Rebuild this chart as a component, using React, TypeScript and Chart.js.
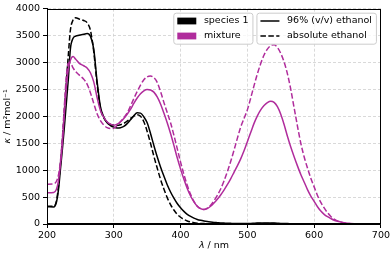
import React, { useEffect, useRef } from 'react';
import { Chart, registerables } from 'chart.js';

Chart.register(...registerables);

// wavelength grid (nm)
const wavelengths = [
  200, 210, 214, 217, 220, 223, 226, 229, 232, 235, 239, 243, 248, 255, 260,
  265, 270, 275, 280, 285, 290, 295, 300, 305, 310, 315, 320, 325, 330, 335,
  340, 345, 350, 355, 360, 365, 370, 375, 380, 385, 390, 395, 400, 405, 410,
  415, 420, 425, 430, 435, 440, 445, 450, 455, 460, 465, 470, 475, 480, 485,
  490, 495, 500, 505, 510, 515, 520, 525, 530, 535, 540, 545, 550, 555, 560,
  565, 570, 575, 580, 585, 590, 595, 600, 605, 610, 615, 620, 625, 630, 635,
  640, 650, 660, 680, 700,
];

// species 1 in 96% (v/v) ethanol
const species96 = [
  320, 318, 400, 620, 1000, 1380, 1800, 2250, 2700, 3250, 3450, 3490, 3505, 3525, 3540,
  3490, 3250, 2650, 2180, 1990, 1880, 1830, 1800, 1785, 1790, 1815, 1865, 1935, 2010, 2065,
  2060, 1990, 1880, 1680, 1460, 1250, 1060, 890, 730, 595, 480, 380, 300, 235, 180,
  140, 110, 85, 68, 55, 45, 37, 30, 25, 20, 17, 14, 12, 10, 9,
  8, 8, 9, 11, 14, 17, 19, 20, 20, 19, 17, 14, 11, 9, 7,
  6, 5, 4, 4, 3, 3, 2, 2, 2, 1, 1, 1, 1, 1, 0,
  0, 0, 0, 0, 0,
];

// species 1 in absolute ethanol
const speciesAbs = [
  330, 330, 420, 680, 1100, 1550, 2100, 2650, 3150, 3600, 3790, 3830, 3810, 3780, 3740,
  3600, 3200, 2600, 2150, 1970, 1890, 1850, 1835, 1835, 1845, 1870, 1910, 1960, 2005, 2030,
  2000, 1900, 1720, 1500, 1260, 1040, 830, 650, 490, 360, 260, 180, 125, 85, 57,
  38, 25, 16, 11, 8, 6, 5, 4, 4, 3, 3, 3, 3, 3, 3,
  3, 3, 4, 5, 7, 9, 10, 11, 11, 10, 9, 7, 6, 5, 4,
  3, 3, 2, 2, 2, 1, 1, 1, 0, 0, 0, 0, 0, 0, 0,
  0, 0, 0, 0, 0,
];

// mixture in 96% (v/v) ethanol
const mixture96 = [
  580, 585, 640, 790, 1100, 1500, 2050, 2550, 2880, 3040, 3110, 3060, 2990, 2940, 2900,
  2810, 2640, 2350, 2110, 1980, 1900, 1855, 1835, 1855, 1900, 1960, 2040, 2130, 2240, 2340,
  2420, 2475, 2500, 2490, 2450, 2360, 2230, 2060, 1880, 1680, 1460, 1230, 1020, 830, 660,
  520, 410, 330, 285, 270, 285, 330, 390, 460, 540, 630, 730, 840, 960, 1080,
  1210, 1360, 1530, 1700, 1870, 2010, 2120, 2200, 2255, 2280, 2260, 2180, 2040, 1850, 1630,
  1430, 1250, 1080, 920, 780, 640, 520, 420, 320, 240, 180, 135, 100, 70, 52,
  38, 15, 5, 0, 0,
];

// mixture in absolute ethanol
const mixtureAbs = [
  740, 745, 790, 900, 1150, 1600, 2200, 2750, 2990, 2990, 2900, 2830, 2770, 2690, 2600,
  2440, 2240, 2050, 1920, 1840, 1790, 1775, 1780, 1830, 1900, 1975, 2060, 2190, 2330, 2460,
  2580, 2680, 2735, 2750, 2720, 2630, 2460, 2260, 2070, 1880, 1650, 1400, 1150, 920, 720,
  550, 420, 330, 285, 270, 295, 350, 430, 530, 650, 800, 970, 1160, 1370, 1590,
  1800, 1960, 2120, 2340, 2570, 2790, 2980, 3140, 3250, 3315, 3330, 3280, 3170, 3010, 2790,
  2500, 2160, 1820, 1500, 1250, 1040, 850, 690, 530, 400, 300, 210, 140, 90, 55,
  32, 10, 2, 0, 0,
];

const seriesLabels = ['species 1', 'mixture'];
const solventLabels = ['96% (v/v) ethanol', 'absolute ethanol'];
const xTitle = ['λ', ' / nm'];
const yTitle = ['κ', ' / m²mol⁻¹'];

const BLACK = '#000000';
const MAGENTA = '#b02c9c';
const FONT = '"DejaVu Sans", sans-serif';
const FS = 9.5;
const DASH = [5.5, 2.4];

const toPoints = (ys: number[]) => wavelengths.map((x, i) => ({ x, y: ys[i] }));

const framePlugin = {
  id: 'frameAndText',
  afterDatasetsDraw(chart: any) {
    const { ctx, chartArea: ca } = chart;
    ctx.save();
    ctx.strokeStyle = '#000';
    ctx.lineWidth = 1;
    ctx.setLineDash([]);
    ctx.strokeRect(Math.round(ca.left) + 0.5, Math.round(ca.top) + 0.5,
      Math.round(ca.right - ca.left) - 1, Math.round(ca.bottom - ca.top) - 1);
    ctx.restore();
  },
  afterDraw(chart: any) {
    const { ctx, chartArea: ca } = chart;
    ctx.save();
    ctx.fillStyle = '#000';
    ctx.textBaseline = 'middle';
    const normal = `${FS}px ${FONT}`;
    const italic = `italic ${FS}px ${FONT}`;

    // x axis title
    ctx.font = italic;
    const xw1 = ctx.measureText(xTitle[0]).width;
    ctx.font = normal;
    const xw2 = ctx.measureText(xTitle[1]).width;
    const xc = (ca.left + ca.right) / 2;
    const xs = xc - (xw1 + xw2) / 2;
    ctx.textAlign = 'left';
    ctx.font = italic;
    ctx.fillText(xTitle[0], xs, 246);
    ctx.font = normal;
    ctx.fillText(xTitle[1], xs + xw1, 246);

    // y axis title
    ctx.save();
    ctx.translate(8, (ca.top + ca.bottom) / 2);
    ctx.rotate(-Math.PI / 2);
    ctx.font = italic;
    const yw1 = ctx.measureText(yTitle[0]).width;
    ctx.font = normal;
    const yw2 = ctx.measureText(yTitle[1]).width;
    const ys = -(yw1 + yw2) / 2;
    ctx.font = italic;
    ctx.fillText(yTitle[0], ys, 0);
    ctx.font = normal;
    ctx.fillText(yTitle[1], ys + yw1, 0);
    ctx.restore();

    // legends
    ctx.font = normal;
    const pad = 4;
    const handle = 19;
    const gap = 7.6;
    const top = ca.top + 4;
    const h = 31;
    const row = [top + 8.3, top + 23.3];
    const box = (x: number, w: number) => {
      ctx.beginPath();
      (ctx as any).roundRect(x + 0.5, top + 0.5, w, h, 2.5);
      ctx.fillStyle = 'rgba(255,255,255,0.8)';
      ctx.fill();
      ctx.strokeStyle = '#cccccc';
      ctx.lineWidth = 1;
      ctx.stroke();
    };
    const tw2 = Math.max(...solventLabels.map((t) => ctx.measureText(t).width));
    const w2 = pad + handle + gap + tw2 + pad;
    const x2 = ca.right - 5 - w2;
    const tw1 = Math.max(...seriesLabels.map((t) => ctx.measureText(t).width));
    const w1 = pad + handle + gap + tw1 + pad;
    const x1 = x2 - 4 - w1;

    box(x1, w1);
    const colors = [BLACK, MAGENTA];
    seriesLabels.forEach((t, i) => {
      ctx.fillStyle = colors[i];
      ctx.fillRect(x1 + pad, row[i] - 3.4, handle, 6.8);
      ctx.fillStyle = '#000';
      ctx.fillText(t, x1 + pad + handle + gap, row[i]);
    });

    box(x2, w2);
    solventLabels.forEach((t, i) => {
      ctx.beginPath();
      ctx.strokeStyle = '#000';
      ctx.lineWidth = 1.5;
      ctx.setLineDash(i === 0 ? [] : DASH);
      ctx.moveTo(x2 + pad, row[i]);
      ctx.lineTo(x2 + pad + handle, row[i]);
      ctx.stroke();
      ctx.setLineDash([]);
      ctx.fillStyle = '#000';
      ctx.fillText(t, x2 + pad + handle + gap, row[i]);
    });
    ctx.restore();
  },
};

export default function App() {
  const ref = useRef<HTMLCanvasElement | null>(null);

  useEffect(() => {
    if (!ref.current) return;
    const line = (data: number[], color: string, dashed: boolean) => ({
      data: toPoints(data),
      borderColor: color,
      backgroundColor: color,
      borderWidth: 1.5,
      borderDash: dashed ? DASH : [],
      pointRadius: 0,
      fill: false,
      cubicInterpolationMode: 'monotone' as const,
    });
    const chart = new Chart(ref.current, {
      type: 'line',
      data: {
        datasets: [
          line(mixtureAbs, MAGENTA, true),
          line(mixture96, MAGENTA, false),
          line(speciesAbs, BLACK, true),
          line(species96, BLACK, false),
        ],
      },
      options: {
        animation: false,
        responsive: false,
        layout: { padding: { top: 5, right: 10, left: 0, bottom: 0 } },
        plugins: { legend: { display: false }, tooltip: { enabled: false } },
        scales: {
          x: {
            type: 'linear',
            min: 200,
            max: 700,
            afterFit: (s: any) => { s.height = 30; },
            ticks: {
              stepSize: 100,
              autoSkip: false,
              maxRotation: 0,
              padding: 2,
              color: '#000',
              font: { family: FONT, size: FS },
              callback: (v: any) => String(v),
            },
            grid: {
              color: '#cfcfcf',
              lineWidth: 0.8,
              tickLength: 4,
              tickColor: '#000',
              tickWidth: 1,
            },
            border: { display: true, color: '#000', width: 1, dash: [3, 2] },
          },
          y: {
            type: 'linear',
            min: 0,
            max: 4000,
            afterFit: (s: any) => { s.width = 47; },
            ticks: {
              stepSize: 500,
              autoSkip: false,
              padding: 3,
              color: '#000',
              font: { family: FONT, size: FS },
              callback: (v: any) => String(v),
            },
            grid: {
              color: '#cfcfcf',
              lineWidth: 0.8,
              tickLength: 4,
              tickColor: '#000',
              tickWidth: 1,
            },
            border: { display: true, color: '#000', width: 1, dash: [3, 2] },
          },
        },
      },
      plugins: [framePlugin],
    } as any);
    return () => chart.destroy();
  }, []);

  return (
    <div style={{ position: 'absolute', left: 0, top: 0, width: 392, height: 254, background: '#fff' }}>
      <canvas ref={ref} width={392} height={254} style={{ display: 'block', width: 392, height: 254 }} />
    </div>
  );
}
